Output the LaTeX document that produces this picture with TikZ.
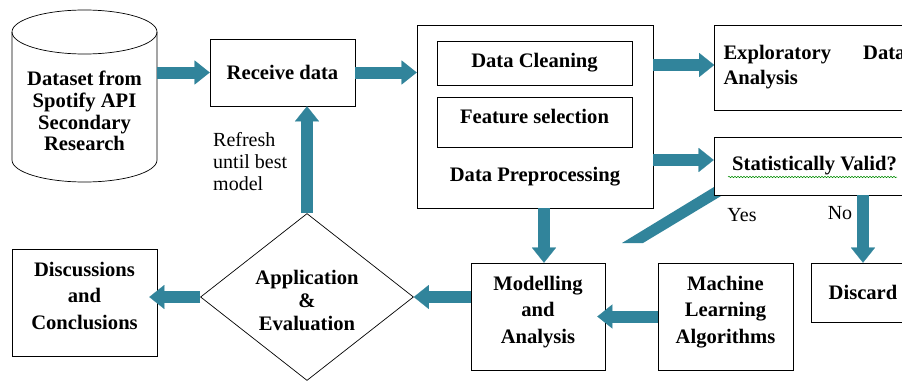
\documentclass[tikz,border=0pt]{standalone}
\usepackage{fontspec}
\setmainfont{Liberation Serif}
\usetikzlibrary{shapes.geometric,arrows.meta,decorations.pathmorphing}
\definecolor{flow}{RGB}{49,132,155}

\begin{document}
\begin{tikzpicture}[x=1pt,y=-1pt,
        box/.style={draw, line width=0.7pt, fill=white, align=center, inner sep=3pt,
            font=\bfseries\fontsize{20.6}{26.5}\selectfont},
        fat/.style={line width=12pt, flow, -{Triangle[length=15pt,width=24pt,line width=0.1pt]}},
        note/.style={font=\fontsize{20}{22}\selectfont, inner sep=0pt}]
    \clip (0,0) rectangle (902,383);
    \fill[white] (0,0) rectangle (902,383);

    % data source (cylinder)
    \draw[line width=0.7pt] (12,32) -- (12,160) arc[start angle=180,end angle=0,x radius=72.5,y radius=22] -- (157,32);
    \draw[line width=0.7pt] (84.5,32) ellipse (72.5 and 22);
    \node[font=\bfseries\fontsize{20.6}{21.7}\selectfont, align=center, minimum width=145pt, inner sep=0pt] (data) at (84.5,111) {Dataset from\\Spotify API\\Secondary\\Research};

    \node[box, minimum width=145pt, minimum height=67pt] (rec) at (282.5,72.5) {Receive data};

    % preprocessing block
    \node[box, minimum width=236pt, minimum height=183pt] (prep) at (535,116.5) {};
    \node[box, minimum width=195pt, minimum height=44pt] (clean) at (534.5,63) {Data Cleaning};
    \node[box, minimum width=195pt, minimum height=50pt, text depth=12pt] (feat) at (534.5,122) {Feature selection};
    \node[font=\bfseries\fontsize{20.6}{24}\selectfont] (preptext) at (535,177) {Data Preprocessing};

    \node[box, text width=182pt, inner xsep=9pt, minimum height=85pt, align=justify,
        font=\bfseries\fontsize{20.6}{25}\selectfont] (eda) at (814.5,67.5) {Exploratory Data Analysis};

    % yes branch goes under the check box
    \fill[flow] (622,243) -- (643,243) -- (736,187) -- (714,187) -- cycle;
    \node[box, minimum width=201pt, minimum height=58pt] (stat) at (814.5,166) {Statistically Valid?};
    \draw[green!55!black, line width=0.5pt, decorate, decoration={snake, amplitude=0.7pt, segment length=3pt}] (728,177) -- (897,177);
    \node[box, minimum width=104pt, minimum height=59pt] (discard) at (863,292.5) {Discard};

    \node[box, minimum width=134pt, minimum height=107pt, text depth=14pt] (model) at (538,316.5) {Modelling\\and\\Analysis};
    \node[box, minimum width=135pt, minimum height=107pt, text depth=14pt] (ml) at (725.5,316.5) {Machine\\Learning\\Algorithms};
    \node[box, minimum width=145pt, minimum height=107pt, text depth=14pt] (disc) at (84.5,302.5) {Discussions\\and\\Conclusions};
    \node[draw, shape=diamond, aspect=1.28, minimum width=213pt, minimum height=167pt, inner sep=0pt,
        align=center, line width=0.7pt, text height=68pt,
        font=\bfseries\fontsize{20.6}{23}\selectfont] (app) at (307,297) {Application\\\&\\Evaluation};

    % flow arrows
    \draw[fat] (data.east |- rec.west) -- (rec.west);
    \draw[fat] (rec.east) -- (rec.east -| prep.west);
    \draw[fat] (prep.east |- 0,65) -- (eda.west |- 0,65);
    \draw[fat] (prep.east |- 0,160) -- (stat.west |- 0,160);
    \draw[fat] (prep.south -| 544,0) -- (model.north -| 544,0);
    \draw[fat] (stat.south -| discard.north) -- (discard.north);
    \draw[fat] (ml.west) -- ([xshift=-8pt]model.east);
    \draw[fat] (model.west |- app.east) -- (app.east);
    \draw[fat] (app.west) -- ([xshift=-8pt]app.west -| disc.east);
    \draw[fat] (app.north) -- (app.north |- rec.south);

    \node[note, align=left, anchor=west] (refresh) at (213,162) {Refresh\\until best\\model};
    \node[note] (yes) at (742,215) {Yes};
    \node[note] (no) at (840,213) {No};
\end{tikzpicture}
\end{document}
